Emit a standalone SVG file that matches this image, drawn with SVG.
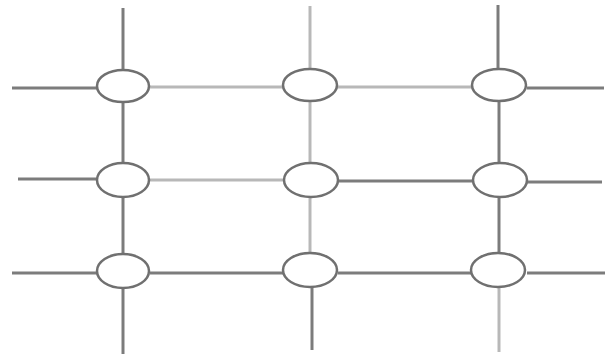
<svg xmlns="http://www.w3.org/2000/svg" width="606" height="357" viewBox="0 0 606 357">
<style>
.d{stroke:#7c7c7c;stroke-width:3;fill:none}
.l{stroke:#b8b8b8;stroke-width:3;fill:none}
.n{fill:#ffffff;stroke:#707070;stroke-width:2.5}
</style>
<rect width="606" height="357" fill="#ffffff"/>
<g id="connectors">
<line class="d" x1="123" y1="8" x2="123" y2="70"/>
<line class="l" x1="310" y1="6" x2="310" y2="70"/>
<line class="d" x1="498" y1="5" x2="498" y2="70"/>
<line class="d" x1="123" y1="100" x2="123" y2="164"/>
<line class="l" x1="310" y1="100" x2="310" y2="164"/>
<line class="d" x1="499" y1="100" x2="499" y2="164"/>
<line class="d" x1="123" y1="196" x2="123" y2="255"/>
<line class="l" x1="310" y1="196" x2="310" y2="255"/>
<line class="d" x1="499" y1="196" x2="499" y2="255"/>
<line class="d" x1="123" y1="287" x2="123" y2="354"/>
<line class="d" x1="312" y1="287" x2="312" y2="350"/>
<line class="l" x1="499" y1="287" x2="499" y2="352"/>
<line class="d" x1="12" y1="88" x2="97" y2="88"/>
<line class="l" x1="150" y1="87" x2="284" y2="87"/>
<line class="l" x1="337" y1="87" x2="472" y2="87"/>
<line class="d" x1="527" y1="88" x2="604" y2="88"/>
<line class="d" x1="18" y1="179" x2="97" y2="179"/>
<line class="l" x1="150" y1="180" x2="284" y2="180"/>
<line class="d" x1="337" y1="181" x2="473" y2="181"/>
<line class="d" x1="527" y1="182" x2="602" y2="182"/>
<line class="d" x1="12" y1="273" x2="97" y2="273"/>
<line class="d" x1="150" y1="273" x2="284" y2="273"/>
<line class="d" x1="338" y1="273" x2="472" y2="273"/>
<line class="d" x1="527" y1="273" x2="605" y2="273"/>
</g>
<g id="n11"><ellipse class="n" cx="123" cy="86" rx="26" ry="16"/></g>
<g id="n12"><ellipse class="n" cx="310" cy="85" rx="27" ry="16"/></g>
<g id="n13"><ellipse class="n" cx="499" cy="85" rx="27" ry="16"/></g>
<g id="n21"><ellipse class="n" cx="123" cy="180" rx="26" ry="17"/></g>
<g id="n22"><ellipse class="n" cx="311" cy="180" rx="27" ry="17"/></g>
<g id="n23"><ellipse class="n" cx="500" cy="180" rx="27" ry="17"/></g>
<g id="n31"><ellipse class="n" cx="123" cy="271" rx="26" ry="17"/></g>
<g id="n32"><ellipse class="n" cx="310" cy="270" rx="27" ry="17"/></g>
<g id="n33"><ellipse class="n" cx="498" cy="270" rx="27" ry="17"/></g>
</svg>
